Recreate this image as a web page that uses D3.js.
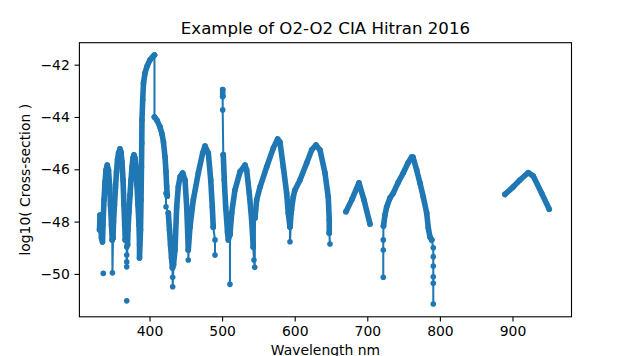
<!DOCTYPE html>
<html><head><meta charset="utf-8">
<script src="https://cdn.jsdelivr.net/npm/d3@7"></script>
<style>
body{margin:0;background:#fff;}
svg{display:block;font-family:"DejaVu Sans",sans-serif;}
</style></head>
<body><svg id="c" width="635" height="356"></svg>
<script>
// ---- data: wavelength (nm), log10(cross-section) ----
// dense bands (many overlapping markers)
const bandUV1 = [[331.1,-48.32],[331.8,-47.75],[332.7,-48.02],[333.8,-48.63],[335.2,-48.78],[335.9,-48.13],[337.3,-47.17],[338.7,-46.49],[340.0,-46.03],[341.8,-45.84],[343.5,-46.03],[344.9,-46.60],[346.2,-47.37],[347.6,-48.13],[348.7,-48.70]];
const bandUV2 = [[349.7,-48.63],[350.4,-48.02],[351.7,-47.37],[353.1,-46.71],[354.5,-46.10],[355.9,-45.64],[357.3,-45.38],[359.3,-45.22],[360.7,-45.34],[362.1,-45.72],[363.5,-46.41],[364.8,-47.37],[365.8,-48.13],[366.6,-48.70]];
const bandUV3 = [[369.7,-48.89],[370.3,-48.32],[371.7,-47.63],[373.1,-46.98],[374.5,-46.41],[375.9,-45.91],[377.2,-45.57],[378.6,-45.45],[380.0,-45.57],[381.4,-45.95],[382.7,-46.60],[384.1,-47.37],[385.5,-48.13],[386.2,-48.89],[386.2,-49.39],[387.6,-48.32],[388.3,-47.17],[388.9,-45.90],[389.3,-45.00],[389.6,-44.12],[390.6,-43.35],[391.7,-42.70],[393.8,-42.32],[396.5,-42.07],[400.6,-41.82],[404.1,-41.71],[406.8,-41.63]];
const bandVis1 = [[406.8,-44.00],[410.3,-44.13],[414.4,-44.38],[417.2,-44.65],[419.2,-44.96],[421.3,-45.52],[422.7,-46.10],[423.6,-46.64],[424.5,-47.02]];
const bandVis2 = [[425.9,-47.67],[427.5,-48.32],[428.9,-48.89],[430.3,-49.39],[431.6,-49.77],[433.0,-49.66],[435.1,-49.09],[437.4,-47.44],[439.6,-46.68],[442.0,-46.29],[445.7,-46.14],[448.9,-46.41],[451.2,-47.44],[452.6,-48.44],[453.4,-49.09],[455.7,-48.21],[460.3,-47.17],[467.2,-46.14],[473.2,-45.38],[476.4,-45.11],[481.0,-45.38],[484.3,-46.41],[486.5,-47.44],[487.8,-48.21]];
const bandVis3top = [[500.8,-42.95],[500.8,-43.22]];
const bandVis3 = [[501.6,-45.45],[503.0,-46.41],[504.9,-47.44],[506.3,-47.94],[507.4,-48.40],[508.5,-48.70],[510.8,-48.50],[513.2,-47.67],[517.7,-46.79],[524.6,-46.10],[531.5,-45.84],[533.8,-46.03],[537.4,-46.91],[540.7,-47.94],[542.9,-48.97]];
const bandVis4 = [[545.3,-47.86],[547.6,-47.17],[552.2,-46.68],[561.4,-45.91],[570.5,-45.19],[576.5,-44.84],[579.7,-44.96],[584.3,-45.91],[588.9,-46.91],[591.1,-47.67],[593.5,-48.21],[595.5,-47.56],[598.0,-47.06],[600.4,-46.79],[607.3,-46.41],[616.5,-45.76],[623.4,-45.26],[629.3,-45.07],[634.8,-45.26],[641.7,-46.14],[646.2,-47.06],[647.6,-47.94],[647.6,-48.44]];
const bandRed1 = [[670.6,-47.62],[678.9,-47.15],[688.5,-46.52],[695.4,-47.17],[703.7,-48.09]];
const bandRed2 = [[722.3,-48.17],[724.3,-47.75],[726.7,-47.44],[731.2,-47.10],[735.8,-46.91],[742.2,-46.52],[749.5,-46.14],[756.0,-45.76],[761.1,-45.53],[762.9,-45.53],[768.0,-46.03],[772.5,-46.52],[777.1,-47.06],[781.8,-47.67],[784.0,-48.24],[786.3,-48.59],[788.7,-48.70]];
const bandNIR = [[889.6,-46.96],[901.1,-46.67],[910.3,-46.41],[921.7,-46.13],[928.6,-46.26],[940.2,-46.92],[950.6,-47.53]];

// sparse runs (isolated points joined by the plain line)
const sparse1 = [[336.3,-49.98]];
const sparse2 = [[348.7,-48.70],[348.9,-49.96],[349.7,-48.63]];
const sparse3 = [[366.6,-48.70],[368.6,-48.97],[368.6,-49.28],[368.6,-49.54],[368.6,-49.73],[369.7,-48.89]];
const sparse4 = [[368.6,-51.03]];
const sparse5 = [[406.8,-41.63],[406.8,-44.00]];
const sparse6 = [[424.5,-47.02],[422.7,-46.92],[422.7,-47.43],[425.9,-47.67]];
const sparse7 = [[431.6,-49.77],[431.9,-50.13],[431.9,-50.49],[433.0,-49.66]];
const sparse8 = [[453.4,-49.09],[453.4,-49.47],[455.7,-48.21]];
const sparse9 = [[487.8,-48.21],[490.2,-48.70],[490.2,-49.28]];
const sparse10 = [[500.8,-43.22],[500.8,-43.73],[501.6,-45.45]];
const sparse11 = [[510.8,-48.50],[510.8,-50.40]];
const sparse12 = [[542.9,-48.97],[543.9,-49.47],[544.9,-49.75],[545.3,-47.86]];
const sparse13 = [[593.5,-48.21],[593.5,-48.77],[595.5,-47.56]];
const sparse14 = [[647.6,-48.44],[648.6,-48.86]];
const sparse15 = [[722.0,-50.13],[722.0,-49.09],[722.0,-48.70],[722.3,-48.17]];
const sparse16 = [[788.7,-48.70],[790.9,-49.00],[790.9,-49.34],[790.9,-49.70],[790.9,-50.11],[790.9,-50.36],[790.9,-51.15]];

const xTicks = [400,500,600,700,800,900];
const yTicks = [-42,-44,-46,-48,-50];
const title = "Example of O2-O2 CIA Hitran 2016";
const xLabel = "Wavelength nm";
const yLabel = "log10( Cross-section )";

const denseBands = [bandUV1,bandUV2,bandUV3,bandVis1,bandVis2,bandVis3top,bandVis3,bandVis4,bandRed1,bandRed2,bandNIR];
const sparseRuns = [sparse1,sparse2,sparse3,sparse4,sparse5,sparse6,sparse7,sparse8,sparse9,sparse10,sparse11,sparse12,sparse13,sparse14,sparse15,sparse16];

// ---- layout ----
const W=635,H=356;
const L=79.4,R=571.5,T=42.7,B=316.8;
const color="#1f77b4";
const svg=d3.select("#c");
svg.append("rect").attr("width",W).attr("height",H).attr("fill","#fff");

const x=d3.scaleLinear().domain([303.4,981.3]).range([L,R]);
const y=d3.scaleLinear().domain([-51.64,-41.16]).range([B,T]);

const clip=svg.append("clipPath").attr("id","clp").append("rect")
  .attr("x",L).attr("y",T).attr("width",R-L).attr("height",B-T);
const g=svg.append("g").attr("clip-path","url(#clp)");
const line=d3.line().x(d=>x(d[0])).y(d=>y(d[1]));

// dense bands: overlapping markers form a ribbon
g.selectAll("path.band").data(denseBands).join("path")
  .attr("class","band").attr("d",line).attr("fill","none")
  .attr("stroke",color).attr("stroke-width",5.6)
  .attr("stroke-linejoin","round").attr("stroke-linecap","round");
// sparse runs: thin line + dots
g.selectAll("path.sp").data(sparseRuns).join("path")
  .attr("class","sp").attr("d",line).attr("fill","none")
  .attr("stroke",color).attr("stroke-width",2.05);
g.selectAll("circle").data(denseBands.flat().concat(sparseRuns.flat())).join("circle")
  .attr("cx",d=>x(d[0])).attr("cy",d=>y(d[1])).attr("r",2.8).attr("fill",color);

// axes
const fmt=d=>String(d).replace("-","\u2212");
const xa=svg.append("g").attr("transform",`translate(0,${B})`)
  .call(d3.axisBottom(x).tickValues(xTicks).tickSize(4.8).tickPadding(5).tickSizeOuter(0));
const ya=svg.append("g").attr("transform",`translate(${L},0)`)
  .call(d3.axisLeft(y).tickValues(yTicks).tickFormat(fmt).tickSize(4.8).tickPadding(4.8).tickSizeOuter(0));
[xa,ya].forEach(a=>{
  a.select(".domain").remove();
  a.selectAll("line").attr("stroke","#000").attr("stroke-width",1.1);
  a.selectAll("text").attr("font-family","DejaVu Sans").attr("font-size",13.9).attr("fill","#000");
});
svg.append("rect").attr("x",L).attr("y",T).attr("width",R-L).attr("height",B-T)
  .attr("fill","none").attr("stroke","#000").attr("stroke-width",1.1);

svg.append("text").attr("x",(L+R)/2).attr("y",34.4).attr("text-anchor","middle")
  .attr("font-size",16.6).attr("fill","#000").text(title);
svg.append("text").attr("x",(L+R)/2).attr("y",355).attr("text-anchor","middle")
  .attr("font-size",13.9).attr("fill","#000").text(xLabel);
svg.append("text").attr("transform",`translate(29.5,${(T+B)/2}) rotate(-90)`).attr("text-anchor","middle")
  .attr("font-size",13.9).attr("fill","#000").text(yLabel);
</script></body></html>
